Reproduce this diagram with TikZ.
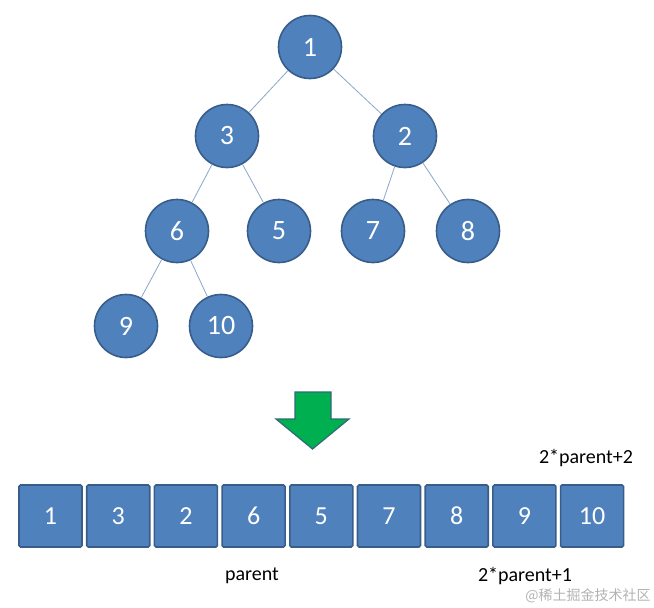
\documentclass[tikz,border=0pt]{standalone}
\usepackage{fontspec}
\setmainfont{Carlito}
\newfontfamily\cjkfont{Noto Sans CJK SC}
\definecolor{nodeblue}{HTML}{4F81BD}
\definecolor{nodeedge}{HTML}{385D8A}
\definecolor{linkblue}{HTML}{8AA6CB}
\definecolor{arrowgreen}{HTML}{00B050}
\definecolor{arrowedge}{HTML}{2F6A78}
\begin{document}
\begin{tikzpicture}[x=1pt,y=-1pt]
\tikzstyle{every node}+=[inner sep=0pt]
\tikzset{
  heapnode/.style={circle, minimum size=63pt, fill=nodeblue, draw=nodeedge, line width=1.6pt,
    text=white, font=\fontsize{28}{28}\selectfont},
  cellbox/.style={rectangle, rounded corners=1.5pt, minimum width=63pt, minimum height=62pt,
    fill=nodeblue, draw=nodeedge, line width=1.6pt, text=white, font=\fontsize{26}{26}\selectfont},
  link/.style={linkblue, line width=0.8pt},
  note/.style={font=\fontsize{20}{20}\selectfont}
}
\useasboundingbox (0,0) rectangle (654,608);
% tree
\node [heapnode] (n1) at (310,47) {1};
\node [heapnode] (n3) at (227,136) {3};
\node [heapnode] (n2) at (405,136) {2};
\node [heapnode] (n6) at (177,231) {6};
\node [heapnode] (n5) at (279,231) {5};
\node [heapnode] (n7) at (373,231) {7};
\node [heapnode] (n8) at (468,231) {8};
\node [heapnode] (n9) at (126,326) {9};
\node [heapnode] (n10) at (221,326) {10};
\draw [link] (n1) -- (n3);
\draw [link] (n1) -- (n2);
\draw [link] (n3) -- (n6);
\draw [link] (n3) -- (n5);
\draw [link] (n2) -- (n7);
\draw [link] (n2) -- (n8);
\draw [link] (n6) -- (n9);
\draw [link] (n6) -- (n10);
% arrow
\draw [arrowedge, fill=arrowgreen, line width=1.2pt, line join=miter]
  (295,392) -- (331,392) -- (331,419) -- (349,419) -- (312.5,449)
  -- (276,419) -- (295,419) -- cycle;
% array
\foreach \v [count=\i from 0] in {1,3,2,6,5,7,8,9,10}
  \node [cellbox] (c\i) at (50.5+67.7*\i,516) {\v};
\node [note] (lp) at (252,576) {parent};
\node [note] (lc1) at (525,576) {2*parent+1};
\node [note] (lc2) at (586,458) {2*parent+2};
\node [gray!60, font=\cjkfont\fontsize{14}{14}\selectfont] (wm) at (588,596) {@稀土掘金技术社区};
\end{tikzpicture}
\end{document}
